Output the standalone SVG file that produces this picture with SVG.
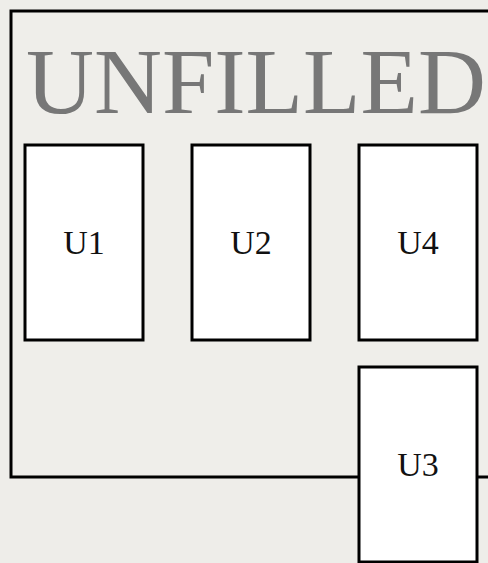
<svg xmlns="http://www.w3.org/2000/svg" width="488" height="563" viewBox="0 0 488 563">
<style>
.box{fill:#ffffff;stroke:#000000;stroke-width:3}
.lbl{font-family:"Liberation Serif","DejaVu Serif",serif;font-size:34px;fill:#111111;text-anchor:middle}
.title{font-family:"Liberation Serif","DejaVu Serif",serif;font-size:94px;fill:#777777}
</style>
<rect x="0" y="0" width="488" height="563" fill="#eeede9"/>
<g id="container">
<rect x="11" y="11" width="500" height="466" fill="#efeeea" stroke="#000000" stroke-width="3"/>
<text class="title" x="26" y="113" textLength="460" lengthAdjust="spacingAndGlyphs">UNFILLED</text>
</g>
<g id="connectors"></g>
<g id="U1"><rect class="box" x="25" y="145" width="118" height="195"/><text class="lbl" x="84" y="254">U1</text></g>
<g id="U2"><rect class="box" x="192" y="145" width="118" height="195"/><text class="lbl" x="251" y="254">U2</text></g>
<g id="U4"><rect class="box" x="359" y="145" width="118" height="195"/><text class="lbl" x="418" y="254">U4</text></g>
<g id="U3"><rect class="box" x="359" y="367" width="118" height="195"/><text class="lbl" x="418" y="476">U3</text></g>
</svg>
